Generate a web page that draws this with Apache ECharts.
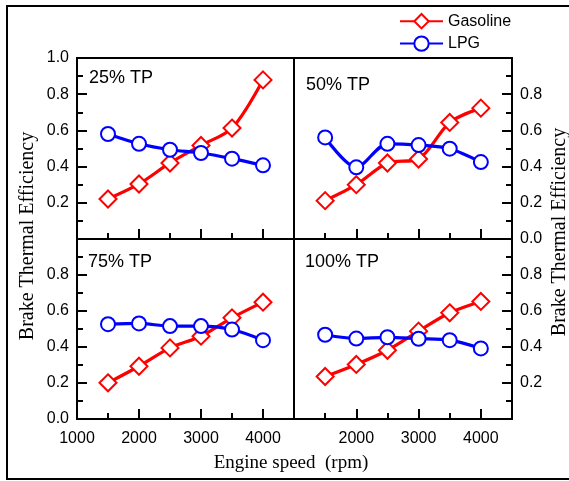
<!DOCTYPE html>
<html>
<head>
<meta charset="utf-8">
<script src="https://cdn.jsdelivr.net/npm/echarts@6/dist/echarts.min.js"></script>
<style>html,body{margin:0;padding:0;background:#fff;}#c{width:569px;height:481px;}</style>
</head>
<body>
<div id="c"></div>
<script>
// ---- data ----
const speeds = [1500, 2000, 2500, 3000, 3500, 4000];
const panelLabels = ['25% TP', '50% TP', '75% TP', '100% TP'];
const gasoline25 = [0.221, 0.304, 0.420, 0.517, 0.613, 0.879];
const lpg25      = [0.580, 0.526, 0.493, 0.475, 0.444, 0.407];
const gasoline50 = [0.212, 0.300, 0.420, 0.442, 0.644, 0.723];
const lpg50      = [0.561, 0.396, 0.526, 0.519, 0.499, 0.425];
const gasoline75 = [0.201, 0.293, 0.395, 0.460, 0.562, 0.649];
const lpg75      = [0.527, 0.531, 0.516, 0.516, 0.497, 0.438];
const gasoline100 = [0.236, 0.303, 0.382, 0.488, 0.590, 0.653];
const lpg100      = [0.468, 0.447, 0.454, 0.446, 0.438, 0.392];
const xTickLabels = [1000, 2000, 3000, 4000];
const yTickLabels = [0.0, 0.2, 0.4, 0.6, 0.8, 1.0];
const seriesNames = ['Gasoline', 'LPG'];

const gasolineSets = [gasoline25, gasoline50, gasoline75, gasoline100];
const lpgSets = [lpg25, lpg50, lpg75, lpg100];

// ---- layout ----
const SANS = '"Liberation Sans", Arial, sans-serif';
const SERIF = '"Liberation Serif", "Times New Roman", serif';
const grids = [
  {left: 77, top: 58, width: 217, height: 181},
  {left: 294, top: 58, width: 218, height: 181},
  {left: 77, top: 239, width: 217, height: 180},
  {left: 294, top: 239, width: 218, height: 180}
];
// which y labels each panel shows
const yShown = [
  [0.2, 0.4, 0.6, 0.8, 1.0],
  [0.0, 0.2, 0.4, 0.6, 0.8],
  [0.0, 0.2, 0.4, 0.6, 0.8],
  [0.2, 0.4, 0.6, 0.8]
];
const xShown = [[], [], [1000, 2000, 3000, 4000], [2000, 3000, 4000]];
const labelPos = [[89, 78], [306, 85], [88, 262], [305, 262]];

const pair = (xs, ys) => xs.map((x, i) => [x, ys[i]]);
const near = (v, arr) => arr.some(a => Math.abs(a - v) < 1e-6);

const option = {
  animation: false,
  backgroundColor: '#fff',
  grid: grids.map(g => Object.assign({show: true, borderColor: '#000', borderWidth: 2, backgroundColor: 'transparent', containLabel: false}, g)),
  xAxis: grids.map((g, i) => ({
    type: 'value', gridIndex: i, min: 1000, max: 4500, interval: 1000,
    axisLine: {show: false},
    axisTick: {show: true, inside: true, length: 10, lineStyle: {color: '#000', width: 2}},
    minorTick: {show: true, splitNumber: 2, length: 6, lineStyle: {color: '#000', width: 2}},
    splitLine: {show: false}, minorSplitLine: {show: false},
    axisLabel: {
      show: xShown[i].length > 0, margin: 12, color: '#000', fontFamily: SANS, fontSize: 16,
      formatter: v => near(v, xShown[i]) && near(v, xTickLabels) ? String(v) : ''
    }
  })),
  yAxis: grids.map((g, i) => ({
    type: 'value', gridIndex: i, min: 0, max: 1.0, interval: 0.2,
    position: (i % 2 === 0) ? 'left' : 'right',
    axisLine: {show: false},
    axisTick: {show: true, inside: true, length: 10, lineStyle: {color: '#000', width: 2}},
    minorTick: {show: true, splitNumber: 2, length: 6, lineStyle: {color: '#000', width: 2}},
    splitLine: {show: false}, minorSplitLine: {show: false},
    axisLabel: {
      margin: 8, color: '#000', fontFamily: SANS, fontSize: 16,
      formatter: v => near(v, yShown[i]) && near(v, yTickLabels) ? v.toFixed(1) : ''
    }
  })),
  legend: {
    data: seriesNames, orient: 'vertical', left: 394, top: 8,
    itemWidth: 43, itemHeight: 18, itemGap: 6,
    textStyle: {fontFamily: SANS, fontSize: 16, color: '#000'}
  },
  series: [],
  graphic: [
    {type: 'rect', shape: {x: 7, y: 6, width: 620, height: 473}, style: {fill: 'none', stroke: '#000', lineWidth: 2}, silent: true},
    {type: 'text', x: 28, y: 236, rotation: Math.PI / 2,
     style: {text: 'Brake Thermal Efficiency', font: '20px ' + SERIF, fill: '#000', align: 'center', verticalAlign: 'middle'}},
    {type: 'text', x: 560, y: 232, rotation: Math.PI / 2,
     style: {text: 'Brake Thermal Efficiency', font: '20px ' + SERIF, fill: '#000', align: 'center', verticalAlign: 'middle'}},
    {type: 'text', x: 291, y: 463,
     style: {text: 'Engine speed  (rpm)', font: '19px ' + SERIF, fill: '#000', align: 'center', verticalAlign: 'middle'}}
  ].concat(panelLabels.map((t, i) => ({
    type: 'text', x: labelPos[i][0], y: labelPos[i][1],
    style: {text: t, font: '18px ' + SANS, fill: '#000', align: 'left', verticalAlign: 'middle'}
  })))
};

for (let i = 0; i < 4; i++) {
  option.series.push({
    name: 'Gasoline', type: 'line', xAxisIndex: i, yAxisIndex: i,
    data: pair(speeds, gasolineSets[i]), smooth: 0.3,
    symbol: 'emptyDiamond', symbolSize: 17,
    lineStyle: {color: '#ff0000', width: 3.2},
    itemStyle: {color: '#ff0000', borderWidth: 1.3}
  });
  option.series.push({
    name: 'LPG', type: 'line', xAxisIndex: i, yAxisIndex: i,
    data: pair(speeds, lpgSets[i]), smooth: 0.3,
    symbol: 'emptyCircle', symbolSize: 14,
    lineStyle: {color: '#0000ff', width: 3.2},
    itemStyle: {color: '#0000ff', borderWidth: 1.3}
  });
}

const chart = echarts.init(document.getElementById('c'), null, {renderer: 'canvas'});
chart.setOption(option);
</script>
</body>
</html>
